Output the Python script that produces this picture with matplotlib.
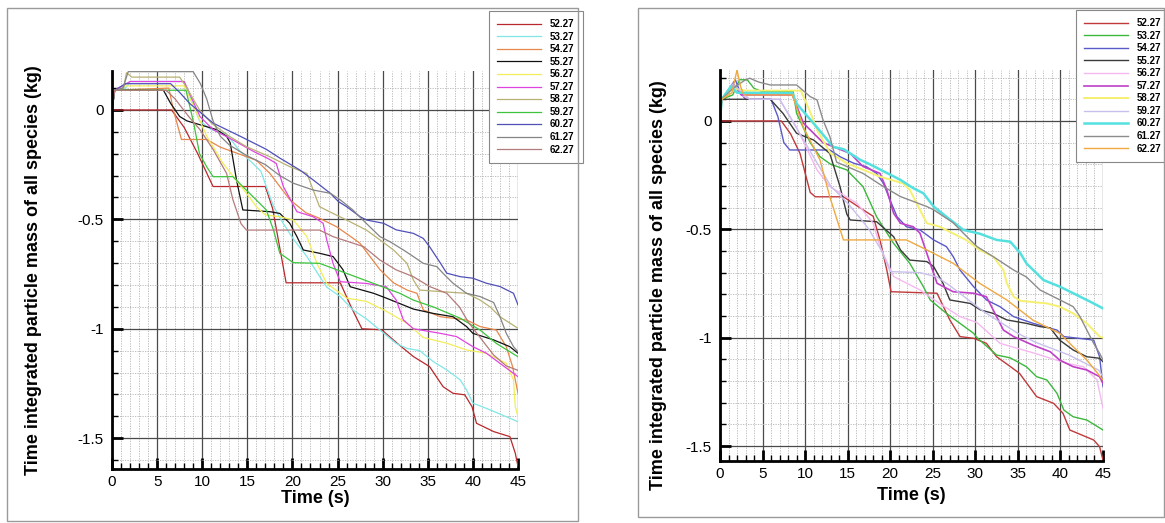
import matplotlib
matplotlib.use("Agg")
import matplotlib.pyplot as plt
from matplotlib.ticker import MultipleLocator, FuncFormatter, FixedLocator
from matplotlib.patches import Rectangle

plt.rcParams['font.family'] = ['Liberation Sans', 'DejaVu Sans']
plt.rcParams['axes.unicode_minus'] = False

labels = ["52.27", "53.27", "54.27", "55.27", "56.27", "57.27",
          "58.27", "59.27", "60.27", "61.27", "62.27"]

# ---------------- left panel data (time s, mass kg) ----------------
left_52 = [(0,0),(6.6,0),(8,-0.08),(9.5,-0.2),(11.2,-0.35),(17,-0.35),(17.8,-0.45),(19.3,-0.79),(25.3,-0.79),(26.5,-0.9),(27.7,-1.0),(29.9,-1.005),(31.6,-1.066),(33.4,-1.127),(35.2,-1.173),(36.7,-1.265),(37.8,-1.295),(39.1,-1.302),(39.9,-1.356),(40.4,-1.432),(42.3,-1.47),(44.1,-1.493),(44.7,-1.569),(45,-1.63)]
left_53 = [(0,0),(0.3,0.09),(1.5,0.1),(2,0.13),(8,0.13),(9.7,-0.05),(11,-0.09),(12.7,-0.11),(14.2,-0.19),(15.5,-0.24),(16.5,-0.28),(17.1,-0.35),(17.9,-0.44),(19,-0.52),(20.1,-0.59),(21.6,-0.67),(23,-0.76),(23.8,-0.81),(25.3,-0.853),(26.7,-0.914),(28.2,-0.955),(29.7,-1.006),(31.5,-1.067),(32.7,-1.09),(34.1,-1.1),(35.6,-1.15),(37.1,-1.188),(38.6,-1.234),(39.3,-1.28),(40,-1.34),(41.5,-1.364),(43.7,-1.402),(45,-1.425)]
left_54 = [(0,0),(0.3,0.09),(6.3,0.1),(6.8,0),(7.7,-0.135),(10.5,-0.135),(12,-0.17),(14,-0.2),(16,-0.23),(17.5,-0.29),(19.7,-0.41),(21.5,-0.47),(23,-0.495),(24.9,-0.534),(26.5,-0.58),(27.5,-0.61),(29.7,-0.73),(31.2,-0.79),(32.7,-0.823),(33.8,-0.838),(34.5,-0.914),(36.4,-0.945),(39.3,-0.96),(40.8,-0.99),(42.6,-1.006),(43.7,-1.082),(44.4,-1.173),(45,-1.295)]
left_55 = [(0,0),(0.3,0.09),(5.7,0.09),(6.5,0.03),(7.5,-0.03),(8.3,-0.05),(11.6,-0.09),(12.7,-0.12),(13.1,-0.15),(13.8,-0.32),(14.5,-0.457),(17.5,-0.465),(18.6,-0.473),(19.7,-0.518),(20.5,-0.579),(21.2,-0.64),(23,-0.655),(24.5,-0.67),(25.6,-0.73),(26.4,-0.808),(29,-0.838),(30.4,-0.86),(33.4,-0.91),(35.6,-0.93),(37.8,-0.945),(39.3,-0.99),(40,-1.021),(42.3,-1.051),(44.1,-1.082),(45,-1.112)]
left_56 = [(0,0),(0.3,0.09),(1.5,0.11),(8,0.11),(9,0.02),(10.5,-0.12),(12.3,-0.244),(14.9,-0.381),(16,-0.442),(17,-0.48),(18.6,-0.488),(20.1,-0.503),(21.6,-0.579),(22.7,-0.7),(23.8,-0.793),(25.3,-0.838),(26,-0.86),(28.2,-0.875),(30.4,-0.92),(32.7,-0.975),(34.5,-1.04),(37.1,-1.066),(39.3,-1.097),(41.5,-1.112),(43.7,-1.158),(44.5,-1.234),(44.7,-1.356),(45,-1.402)]
left_57 = [(0,0),(0.3,0.09),(2,0.13),(8,0.13),(9.75,-0.03),(11.2,-0.09),(13.4,-0.137),(15.7,-0.19),(17.2,-0.22),(18.2,-0.244),(19,-0.351),(20.5,-0.465),(22.3,-0.488),(23.4,-0.518),(23.8,-0.594),(24.5,-0.701),(25.3,-0.785),(28.2,-0.793),(30.4,-0.808),(31.5,-0.869),(32.3,-0.96),(33.4,-1.0),(36.4,-1.021),(38.2,-1.036),(40,-1.082),(41.5,-1.112),(43,-1.158),(45,-1.219)]
left_58 = [(0,0),(0.3,0.09),(1.3,0.1),(1.6,0.17),(2.2,0.15),(7.5,0.15),(8.3,0.1),(9.7,0.0),(11,-0.06),(13,-0.12),(14.9,-0.168),(17.5,-0.214),(19.7,-0.259),(21.6,-0.29),(22.3,-0.366),(23,-0.442),(24.5,-0.473),(26,-0.503),(28.2,-0.549),(29.7,-0.594),(31.2,-0.64),(32.7,-0.701),(33.4,-0.777),(34.1,-0.823),(36.3,-0.83),(39.3,-0.838),(40.8,-0.869),(41.9,-0.9),(43,-0.945),(45,-0.998)]
left_59 = [(0,0),(0.3,0.09),(8.2,0.09),(9,-0.05),(9.7,-0.2),(10.5,-0.26),(11.2,-0.305),(13.4,-0.305),(16,-0.412),(17.1,-0.457),(17.9,-0.549),(18.6,-0.655),(20.1,-0.698),(23,-0.701),(26,-0.747),(29,-0.793),(31.9,-0.838),(33.4,-0.869),(35.6,-0.9),(38.6,-0.952),(40.8,-1.006),(42.6,-1.067),(45,-1.128)]
left_60 = [(0,0),(0.3,0.09),(1.5,0.12),(6.5,0.12),(7.5,0.08),(8.6,0.03),(11.2,-0.06),(14.2,-0.12),(17.1,-0.18),(18.6,-0.22),(20.8,-0.274),(22.3,-0.32),(24.2,-0.381),(25.1,-0.419),(26,-0.442),(27.5,-0.488),(28.2,-0.503),(30.1,-0.518),(31.5,-0.548),(33.4,-0.564),(34.5,-0.587),(35.2,-0.625),(36.4,-0.7),(37.1,-0.746),(38.6,-0.762),(40,-0.769),(41.5,-0.792),(43,-0.807),(44.5,-0.838),(45,-0.891)]
left_61 = [(0,0),(0.3,0.09),(1.2,0.1),(1.8,0.175),(9,0.175),(9.8,0.12),(10.5,0.05),(11.2,-0.05),(12,-0.12),(13,-0.16),(15,-0.21),(17,-0.25),(18.6,-0.3),(20.1,-0.335),(22.3,-0.366),(24.2,-0.381),(25.3,-0.411),(26.7,-0.457),(27.8,-0.503),(29.7,-0.579),(30.8,-0.602),(32.3,-0.64),(33.4,-0.67),(34.5,-0.701),(36,-0.716),(36.7,-0.747),(37.8,-0.792),(39.3,-0.838),(40.8,-0.853),(42.3,-0.88),(43,-0.945),(43.7,-1.021),(44.5,-1.082),(45,-1.105)]
left_62 = [(0,0),(0.3,0.09),(6,0.09),(7,0.05),(8.5,-0.03),(9.75,-0.09),(11.2,-0.18),(12.7,-0.29),(13.4,-0.41),(14.3,-0.52),(14.9,-0.549),(23,-0.549),(24.5,-0.579),(27.9,-0.625),(29.7,-0.686),(31.5,-0.731),(33.4,-0.762),(35.2,-0.807),(37.1,-0.838),(38.5,-0.9),(39.5,-0.97),(40.8,-1.04),(42.3,-1.12),(43.7,-1.17),(45,-1.19)]

# ---------------- right panel data (time s, mass kg) ----------------
right_52 = [(0,0),(7.2,0),(8.3,-0.06),(9.4,-0.15),(10.6,-0.33),(11.2,-0.35),(14.5,-0.35),(16.8,-0.41),(18,-0.44),(18.8,-0.55),(19.6,-0.688),(20.1,-0.788),(25.5,-0.795),(27,-0.918),(28.2,-0.995),(29.8,-1.003),(31.3,-1.026),(32.5,-1.088),(34,-1.13),(35.2,-1.165),(37.2,-1.272),(39.2,-1.303),(40.3,-1.349),(41.1,-1.426),(43.9,-1.472),(44.6,-1.503),(45,-1.565)]
right_53 = [(0,0),(0.2,0.1),(1.5,0.12),(2.3,0.19),(3.2,0.19),(4,0.15),(5,0.135),(8.6,0.135),(9,0.035),(10.6,-0.1),(11.75,-0.165),(13,-0.2),(14.9,-0.226),(16.8,-0.303),(18.4,-0.442),(20.4,-0.565),(22.3,-0.657),(23.9,-0.765),(24.7,-0.826),(26.6,-0.888),(29.8,-0.98),(30.2,-1.0),(32.5,-1.08),(34.1,-1.093),(36,-1.134),(37.2,-1.18),(38.4,-1.195),(39.6,-1.257),(40.4,-1.334),(41.5,-1.365),(43.1,-1.38),(45,-1.426)]
right_54 = [(0,0),(0.2,0.1),(1.8,0.19),(2.4,0.13),(3,0.1),(6,0.1),(6.8,0.02),(7.5,-0.1),(8.2,-0.134),(12.9,-0.134),(14.1,-0.165),(15.7,-0.195),(17.2,-0.211),(18.4,-0.242),(19.2,-0.288),(19.98,-0.365),(20.8,-0.442),(21.9,-0.488),(23.5,-0.503),(25.1,-0.549),(26.6,-0.58),(27.4,-0.626),(28.2,-0.688),(29.8,-0.765),(31.3,-0.826),(32.9,-0.857),(34.5,-0.903),(36.8,-0.934),(39.6,-0.965),(40.4,-0.995),(43.9,-1.011),(44.6,-1.088),(45,-1.226)]
right_55 = [(0,0),(0.2,0.1),(5.9,0.1),(7.4,0.035),(9,-0.057),(11,-0.088),(12.9,-0.15),(14.1,-0.303),(14.9,-0.43),(15.3,-0.457),(18.4,-0.465),(20.4,-0.534),(21.2,-0.595),(22.3,-0.642),(24.3,-0.649),(25.1,-0.672),(26.2,-0.749),(27,-0.826),(29.4,-0.842),(30.6,-0.872),(32.1,-0.888),(33.7,-0.918),(36,-0.934),(37.6,-0.949),(38.8,-0.955),(39.9,-1.011),(41.5,-1.057),(43.1,-1.088),(44.6,-1.095),(45,-1.111)]
right_56 = [(0,0),(0.2,0.1),(1.5,0.15),(2.5,0.12),(3.5,0.1),(7,0.1),(9,-0.03),(11.4,-0.226),(12.9,-0.303),(16.1,-0.38),(18,-0.472),(18.8,-0.58),(20.4,-0.718),(23.5,-0.78),(25.8,-0.842),(28.2,-0.903),(30.2,-0.93),(32.9,-1.026),(36.8,-1.07),(40.7,-1.118),(42.7,-1.134),(44.3,-1.195),(45,-1.326)]
right_57 = [(0,0),(0.2,0.1),(1.6,0.17),(2.5,0.12),(8.5,0.12),(9.8,-0.01),(12.1,-0.1),(15.3,-0.15),(16.8,-0.21),(18.8,-0.242),(19.6,-0.318),(20.4,-0.426),(21.2,-0.472),(22.7,-0.488),(23.5,-0.518),(24.7,-0.657),(25.5,-0.749),(27.4,-0.788),(29.8,-0.795),(31.3,-0.811),(32.5,-0.903),(33.3,-0.965),(34.5,-0.995),(36.8,-1.035),(38.8,-1.065),(39.9,-1.103),(41.5,-1.134),(43.1,-1.149),(44.6,-1.18),(45,-1.211)]
right_58 = [(0,0),(0.2,0.1),(1.5,0.15),(3,0.14),(9.5,0.14),(10.5,0.05),(11.5,-0.05),(13,-0.15),(14.9,-0.195),(18.8,-0.257),(21.5,-0.288),(22.3,-0.318),(23.1,-0.38),(24.3,-0.472),(25.8,-0.488),(28.9,-0.549),(30.5,-0.595),(32.1,-0.626),(33.3,-0.688),(33.7,-0.749),(34.5,-0.811),(35.3,-0.83),(38.4,-0.842),(39.9,-0.857),(41.5,-0.888),(43.1,-0.934),(44.6,-0.995),(45,-1.0)]
right_59 = [(0,0),(0.2,0.1),(1.5,0.17),(2.6,0.13),(3.5,0.1),(7,0.1),(8.5,0.0),(10,-0.1),(11.5,-0.2),(13,-0.3),(15,-0.38),(16.5,-0.45),(17.5,-0.5),(19,-0.6),(20,-0.695),(23.5,-0.7),(25.5,-0.72),(27,-0.76),(29,-0.82),(31,-0.88),(33,-0.93),(35,-0.98),(37,-1.02),(39,-1.05),(41,-1.08),(43,-1.12),(44.5,-1.15),(45,-1.18)]
right_60 = [(0,0),(0.2,0.1),(1.3,0.16),(2,0.13),(8.5,0.128),(9,0.08),(11.4,-0.03),(13.3,-0.12),(14.5,-0.13),(16.5,-0.18),(17.6,-0.2),(19.6,-0.24),(21.2,-0.272),(22.7,-0.31),(23.9,-0.334),(25.1,-0.395),(26.6,-0.442),(28.6,-0.503),(30.5,-0.52),(32.5,-0.549),(34.1,-0.557),(35.3,-0.611),(36,-0.657),(38,-0.734),(39.95,-0.765),(41.5,-0.795),(43.9,-0.842),(45,-0.865)]
right_61 = [(0,0),(0.2,0.1),(1.5,0.15),(3,0.19),(3.5,0.197),(4.5,0.18),(5.9,0.166),(9,0.166),(10.6,0.112),(11.4,0.097),(12.1,0.005),(12.9,-0.072),(13.7,-0.19),(16.8,-0.242),(19.2,-0.303),(21.2,-0.349),(24.3,-0.395),(25.1,-0.41),(27.4,-0.47),(28.6,-0.518),(30.2,-0.58),(32.1,-0.626),(34.5,-0.688),(36,-0.72),(37.6,-0.78),(39.95,-0.826),(41.5,-0.857),(42.3,-0.903),(43.1,-0.965),(43.9,-1.026),(44.6,-1.072),(45,-1.103)]
right_62 = [(0,0),(0.2,0.1),(1.4,0.13),(2.0,0.235),(2.4,0.16),(2.8,0.12),(8.5,0.12),(9.8,-0.03),(11.75,-0.18),(12.9,-0.35),(14.5,-0.549),(21.9,-0.549),(24.3,-0.595),(27.4,-0.657),(30.5,-0.749),(33.7,-0.826),(36.8,-0.92),(39.9,-0.98),(41.5,-1.042),(43.1,-1.103),(45,-1.195)]

left_series = [left_52, left_53, left_54, left_55, left_56, left_57,
               left_58, left_59, left_60, left_61, left_62]
right_series = [right_52, right_53, right_54, right_55, right_56, right_57,
                right_58, right_59, right_60, right_61, right_62]

left_colors = ['#b8282c', '#80e6e6', '#e8874a', '#111111', '#f2ee5a', '#e044e0',
               '#b9b173', '#3cc43c', '#5050b8', '#858585', '#b57a7a']
right_colors = ['#c0393b', '#3cb83c', '#5a5ac8', '#3a3a3a', '#f5b8f0', '#c040c8',
                '#f5f070', '#c8c0ec', '#55e0e0', '#8c8c8c', '#f0a840']
right_widths = [1.0, 1.0, 1.0, 1.0, 1.0, 1.2, 1.4, 1.0, 1.8, 1.0, 1.0]

W, H = 1165, 523
fig = plt.figure(figsize=(W / 100, H / 100), dpi=100)

# panel frames
for (x0, y0, x1, y1) in [(7, 8, 578, 521), (638, 8, 1164, 517)]:
    fig.patches.append(Rectangle((x0 / W, 1 - y1 / H), (x1 - x0) / W, (y1 - y0) / H,
                                 transform=fig.transFigure, fill=False,
                                 edgecolor='#9a9a9a', linewidth=1.0))


def make_axes(rect_px, ylim):
    x0, y0, x1, y1 = rect_px
    ax = fig.add_axes([x0 / W, 1 - y1 / H, (x1 - x0) / W, (y1 - y0) / H])
    ax.set_xlim(0, 45)
    ax.set_ylim(*ylim)
    ax.xaxis.set_major_locator(MultipleLocator(5))
    ax.xaxis.set_minor_locator(MultipleLocator(1))
    ax.yaxis.set_major_locator(FixedLocator([0, -0.5, -1, -1.5]))
    ax.yaxis.set_minor_locator(MultipleLocator(0.1))
    fmt = FuncFormatter(lambda v, p: "%g" % round(v, 3))
    ax.xaxis.set_major_formatter(fmt)
    ax.yaxis.set_major_formatter(fmt)
    ax.grid(which='major', color='#4a4a4a', linewidth=0.9, linestyle='-')
    ax.grid(which='minor', color='#b4b4b4', linewidth=0.6, linestyle=(0, (1.5, 1.5)))
    ax.set_axisbelow(True)
    for s in ['top', 'right']:
        ax.spines[s].set_visible(False)
    for s in ['left', 'bottom']:
        ax.spines[s].set_linewidth(2.0)
    ax.tick_params(which='major', direction='in', length=8, width=2, labelsize=11,
                   pad=4)
    ax.tick_params(which='minor', direction='in', length=4, width=1)
    ax.tick_params(axis='y', which='major', pad=6)
    return ax


axL = make_axes((112, 71, 518, 469), (-1.641, 0.178))
axR = make_axes((720, 70, 1103, 461), (-1.569, 0.235))

for lab, ser, col in zip(labels, left_series, left_colors):
    t = [p[0] for p in ser]
    y = [p[1] for p in ser]
    axL.plot(t, y, color=col, linewidth=0.9, label=lab)

for lab, ser, col, lw in zip(labels, right_series, right_colors, right_widths):
    t = [p[0] for p in ser]
    y = [p[1] for p in ser]
    axR.plot(t, y, color=col, linewidth=lw, label=lab)

for ax, xlab_y in [(axL, -0.052), (axR, -0.066)]:
    ax.set_xlabel("Time (s)", fontsize=13, fontweight='bold')
    ax.xaxis.set_label_coords(0.5, xlab_y)
    ax.set_ylabel("Time integrated particle mass of all species (kg)",
                  fontsize=13, fontweight='bold')

axL.yaxis.set_label_coords((42 - 112) / 406, 0.5)
axR.yaxis.set_label_coords((667 - 720) / 383, 0.45)

for ax, anchor in [(axL, (489, 11)), (axR, (1076, 10))]:
    leg = ax.legend(loc='upper left',
                    bbox_to_anchor=(anchor[0] / W, 1 - anchor[1] / H),
                    bbox_transform=fig.transFigure,
                    prop={'size': 7, 'weight': 'bold'},
                    frameon=True, fancybox=False, framealpha=1,
                    edgecolor='#888888', borderpad=0.85, labelspacing=0.26,
                    handlelength=4.5, handletextpad=0.9, borderaxespad=0)
    leg.get_frame().set_linewidth(0.8)

fig.savefig("out.png", dpi=100)
